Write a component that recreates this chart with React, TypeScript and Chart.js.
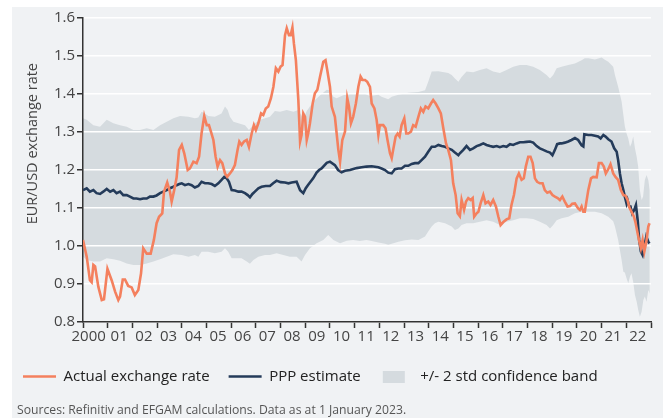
import React, { useEffect, useRef } from "react";
import { Chart, registerables } from "chart.js";

Chart.register(...registerables);

const FONT = "'Open Sans', 'Noto Sans', sans-serif";
const ORANGE = "#f4805e";
const NAVY = "#243b5a";
const BAND_COLOR = "#d5dbdf";
const PANEL = "#f0f2f4";
const AXIS = "#333333";

const xTickLabels = ["2000   ", "01", "02", "03", "04", "05", "06", "07", "08", "09", "10", "11", "12", "13", "14", "15", "16", "17", "18", "19", "20", "21", "22", ""];
const yAxisTitle = "EUR/USD exchange rate";
const seriesLabels = ["Actual exchange rate", "PPP estimate", "+/- 2 std confidence band"];
const sourceNote = "Sources: Refinitiv and EFGAM calculations. Data as at 1 January 2023.";

// [decimal year, EUR/USD]
const actualRate: [number, number][] = [
  [2000.0, 1.016], [2000.15, 0.972], [2000.28, 0.91], [2000.35, 0.905], [2000.42, 0.95], [2000.49, 0.946], [2000.62, 0.893], [2000.76, 0.858], [2000.85, 0.86], [2000.99, 0.94],
  [2001.16, 0.91], [2001.3, 0.88], [2001.43, 0.858], [2001.5, 0.867], [2001.61, 0.912], [2001.7, 0.912], [2001.83, 0.895], [2001.97, 0.891], [2002.1, 0.871], [2002.24, 0.884],
  [2002.35, 0.928], [2002.44, 0.994], [2002.58, 0.98], [2002.74, 0.98], [2002.87, 1.016], [2002.98, 1.06], [2003.08, 1.077], [2003.21, 1.086], [2003.28, 1.143], [2003.41, 1.167],
  [2003.52, 1.143], [2003.59, 1.117], [2003.68, 1.143], [2003.79, 1.18], [2003.89, 1.253], [2004.0, 1.266], [2004.1, 1.244], [2004.24, 1.2], [2004.33, 1.204], [2004.47, 1.222],
  [2004.6, 1.218], [2004.7, 1.235], [2004.8, 1.296], [2004.91, 1.342], [2005.01, 1.318], [2005.1, 1.318], [2005.18, 1.301], [2005.28, 1.279], [2005.37, 1.235], [2005.45, 1.209],
  [2005.55, 1.226], [2005.64, 1.218], [2005.75, 1.191], [2005.84, 1.182], [2005.95, 1.191], [2006.05, 1.2], [2006.15, 1.213], [2006.26, 1.253], [2006.33, 1.275], [2006.42, 1.266],
  [2006.52, 1.275], [2006.63, 1.279], [2006.72, 1.261], [2006.83, 1.296], [2006.92, 1.318], [2007.0, 1.305], [2007.1, 1.323], [2007.21, 1.349], [2007.3, 1.345], [2007.4, 1.362],
  [2007.5, 1.367], [2007.61, 1.389], [2007.71, 1.419], [2007.81, 1.468], [2007.91, 1.459], [2008.0, 1.472], [2008.08, 1.476], [2008.18, 1.555], [2008.25, 1.573], [2008.34, 1.555],
  [2008.41, 1.555], [2008.48, 1.575], [2008.54, 1.533], [2008.62, 1.489], [2008.72, 1.384], [2008.79, 1.275], [2008.85, 1.292], [2008.92, 1.349], [2008.99, 1.34], [2009.06, 1.279],
  [2009.12, 1.296], [2009.19, 1.323], [2009.3, 1.375], [2009.39, 1.402], [2009.49, 1.411], [2009.6, 1.446], [2009.73, 1.485], [2009.82, 1.489], [2009.89, 1.463], [2010.0, 1.419],
  [2010.07, 1.367], [2010.2, 1.34], [2010.34, 1.253], [2010.41, 1.222], [2010.5, 1.279], [2010.61, 1.301], [2010.7, 1.389], [2010.77, 1.367], [2010.85, 1.323], [2010.94, 1.34],
  [2011.05, 1.375], [2011.15, 1.419], [2011.24, 1.446], [2011.32, 1.437], [2011.42, 1.437], [2011.51, 1.432], [2011.62, 1.419], [2011.69, 1.375], [2011.8, 1.362], [2011.89, 1.332],
  [2011.96, 1.292], [2012.02, 1.318], [2012.16, 1.318], [2012.25, 1.31], [2012.33, 1.279], [2012.43, 1.244], [2012.5, 1.231], [2012.56, 1.253], [2012.66, 1.288], [2012.74, 1.296],
  [2012.82, 1.288], [2012.9, 1.318], [2013.01, 1.336], [2013.09, 1.296], [2013.17, 1.296], [2013.28, 1.301], [2013.37, 1.318], [2013.47, 1.314], [2013.58, 1.34], [2013.68, 1.362],
  [2013.78, 1.353], [2013.87, 1.367], [2013.98, 1.362], [2014.09, 1.375], [2014.18, 1.384], [2014.28, 1.375], [2014.39, 1.362], [2014.49, 1.349], [2014.59, 1.31], [2014.7, 1.27],
  [2014.79, 1.253], [2014.9, 1.226], [2014.99, 1.165], [2015.09, 1.134], [2015.17, 1.086], [2015.26, 1.078], [2015.33, 1.121], [2015.43, 1.095], [2015.51, 1.117], [2015.6, 1.126],
  [2015.7, 1.121], [2015.78, 1.126], [2015.84, 1.077], [2015.94, 1.086], [2016.01, 1.09], [2016.1, 1.112], [2016.21, 1.134], [2016.3, 1.112], [2016.41, 1.117], [2016.5, 1.108],
  [2016.61, 1.121], [2016.72, 1.104], [2016.82, 1.077], [2016.91, 1.055], [2017.02, 1.063], [2017.15, 1.07], [2017.26, 1.073], [2017.35, 1.108], [2017.45, 1.134], [2017.56, 1.178],
  [2017.65, 1.191], [2017.76, 1.174], [2017.85, 1.178], [2017.93, 1.209], [2018.03, 1.235], [2018.12, 1.235], [2018.21, 1.218], [2018.3, 1.178], [2018.39, 1.169], [2018.5, 1.165],
  [2018.61, 1.165], [2018.7, 1.147], [2018.8, 1.14], [2018.91, 1.143], [2019.01, 1.134], [2019.11, 1.13], [2019.22, 1.126], [2019.31, 1.121], [2019.41, 1.13], [2019.51, 1.117],
  [2019.62, 1.104], [2019.72, 1.105], [2019.81, 1.111], [2019.92, 1.112], [2020.05, 1.099], [2020.12, 1.095], [2020.19, 1.104], [2020.26, 1.09], [2020.32, 1.09], [2020.46, 1.147],
  [2020.57, 1.178], [2020.66, 1.182], [2020.8, 1.181], [2020.89, 1.218], [2021.0, 1.218], [2021.09, 1.209], [2021.17, 1.191], [2021.27, 1.202], [2021.36, 1.215], [2021.47, 1.191],
  [2021.57, 1.181], [2021.67, 1.174], [2021.78, 1.147], [2021.88, 1.134], [2021.97, 1.132], [2022.05, 1.121], [2022.12, 1.102], [2022.21, 1.09], [2022.31, 1.077], [2022.38, 1.06],
  [2022.46, 1.033], [2022.52, 1.014], [2022.59, 0.994], [2022.66, 1.016], [2022.73, 0.985], [2022.81, 1.011], [2022.89, 1.051], [2022.94, 1.06],
];

const pppEstimate: [number, number][] = [
  [2000.0, 1.147], [2000.15, 1.152], [2000.28, 1.143], [2000.42, 1.147], [2000.55, 1.139], [2000.69, 1.137], [2000.82, 1.143], [2000.96, 1.15], [2001.1, 1.143], [2001.23, 1.147],
  [2001.36, 1.139], [2001.5, 1.143], [2001.63, 1.134], [2001.77, 1.134], [2001.9, 1.13], [2002.04, 1.125], [2002.17, 1.125], [2002.31, 1.123], [2002.44, 1.125], [2002.58, 1.125],
  [2002.71, 1.13], [2002.85, 1.13], [2002.98, 1.133], [2003.12, 1.139], [2003.25, 1.143], [2003.39, 1.147], [2003.52, 1.152], [2003.66, 1.156], [2003.79, 1.16], [2003.9, 1.163],
  [2004.0, 1.165], [2004.13, 1.16], [2004.27, 1.163], [2004.4, 1.16], [2004.53, 1.154], [2004.67, 1.158], [2004.8, 1.169], [2004.94, 1.165], [2005.07, 1.165], [2005.21, 1.163],
  [2005.34, 1.158], [2005.48, 1.165], [2005.61, 1.174], [2005.72, 1.182], [2005.82, 1.178], [2005.91, 1.169], [2006.02, 1.147], [2006.15, 1.146], [2006.29, 1.143], [2006.42, 1.143],
  [2006.56, 1.139], [2006.67, 1.134], [2006.76, 1.128], [2006.86, 1.137], [2006.96, 1.143], [2007.1, 1.152], [2007.23, 1.156], [2007.4, 1.158], [2007.57, 1.158], [2007.7, 1.165],
  [2007.84, 1.172], [2008.0, 1.168], [2008.18, 1.167], [2008.32, 1.165], [2008.45, 1.167], [2008.65, 1.169], [2008.79, 1.147], [2008.92, 1.139], [2009.02, 1.152], [2009.12, 1.161],
  [2009.32, 1.178], [2009.46, 1.193], [2009.56, 1.2], [2009.66, 1.204], [2009.87, 1.219], [2010.0, 1.222], [2010.2, 1.213], [2010.33, 1.2], [2010.47, 1.194], [2010.61, 1.198],
  [2010.81, 1.2], [2011.08, 1.205], [2011.28, 1.207], [2011.48, 1.209], [2011.69, 1.21], [2011.96, 1.207], [2012.09, 1.204], [2012.23, 1.2], [2012.36, 1.193], [2012.5, 1.191],
  [2012.63, 1.202], [2012.77, 1.204], [2012.9, 1.204], [2013.04, 1.211], [2013.17, 1.211], [2013.31, 1.216], [2013.44, 1.218], [2013.58, 1.218], [2013.71, 1.226], [2013.85, 1.235],
  [2013.98, 1.248], [2014.12, 1.261], [2014.25, 1.261], [2014.39, 1.266], [2014.52, 1.263], [2014.66, 1.261], [2014.79, 1.257], [2014.93, 1.253], [2015.06, 1.246], [2015.2, 1.239],
  [2015.26, 1.244], [2015.4, 1.253], [2015.53, 1.263], [2015.67, 1.253], [2015.8, 1.257], [2015.94, 1.263], [2016.07, 1.266], [2016.21, 1.27], [2016.34, 1.266], [2016.48, 1.263],
  [2016.61, 1.261], [2016.75, 1.263], [2016.88, 1.26], [2017.02, 1.263], [2017.15, 1.261], [2017.29, 1.268], [2017.42, 1.266], [2017.56, 1.27], [2017.69, 1.273], [2017.83, 1.273],
  [2017.96, 1.274], [2018.1, 1.275], [2018.23, 1.272], [2018.37, 1.263], [2018.5, 1.257], [2018.64, 1.253], [2018.77, 1.249], [2018.91, 1.246], [2019.01, 1.239], [2019.11, 1.253],
  [2019.2, 1.268], [2019.31, 1.27], [2019.38, 1.27], [2019.51, 1.272], [2019.65, 1.275], [2019.78, 1.279], [2019.92, 1.284], [2020.05, 1.279], [2020.19, 1.265], [2020.26, 1.262],
  [2020.3, 1.294], [2020.46, 1.292], [2020.59, 1.292], [2020.73, 1.29], [2020.86, 1.288], [2020.96, 1.283], [2021.07, 1.292], [2021.16, 1.288], [2021.27, 1.281], [2021.4, 1.275],
  [2021.51, 1.257], [2021.61, 1.248], [2021.67, 1.226], [2021.74, 1.191], [2021.81, 1.165], [2021.88, 1.147], [2021.94, 1.13], [2022.01, 1.112], [2022.05, 1.121], [2022.12, 1.104],
  [2022.17, 1.104], [2022.24, 1.086], [2022.32, 1.095], [2022.39, 1.108], [2022.46, 1.068], [2022.52, 1.016], [2022.59, 0.985], [2022.66, 0.976], [2022.73, 0.998], [2022.81, 1.025],
  [2022.89, 1.011], [2022.94, 1.007],
];

const bandUpper: [number, number][] = [
  [2000.0, 1.336], [2000.15, 1.332], [2000.42, 1.318], [2000.69, 1.314], [2000.96, 1.332], [2001.23, 1.323], [2001.5, 1.318], [2001.77, 1.314], [2002.04, 1.305], [2002.31, 1.305],
  [2002.58, 1.31], [2002.85, 1.305], [2003.12, 1.318], [2003.39, 1.327], [2003.66, 1.336], [2003.93, 1.342], [2004.27, 1.34], [2004.53, 1.336], [2004.67, 1.338], [2004.8, 1.353],
  [2004.94, 1.349], [2005.07, 1.342], [2005.34, 1.34], [2005.61, 1.349], [2005.75, 1.367], [2005.86, 1.358], [2005.95, 1.34], [2006.09, 1.327], [2006.29, 1.323], [2006.56, 1.318],
  [2006.72, 1.305], [2006.83, 1.314], [2006.96, 1.323], [2007.17, 1.332], [2007.37, 1.336], [2007.57, 1.34], [2007.77, 1.355], [2007.98, 1.353], [2008.25, 1.358], [2008.52, 1.353],
  [2008.72, 1.358], [2008.92, 1.335], [2009.06, 1.355], [2009.33, 1.38], [2009.6, 1.397], [2009.87, 1.411], [2010.0, 1.41], [2010.14, 1.393], [2010.27, 1.389], [2010.54, 1.397],
  [2010.81, 1.4], [2011.08, 1.4], [2011.35, 1.402], [2011.62, 1.395], [2011.96, 1.398], [2012.09, 1.393], [2012.36, 1.386], [2012.5, 1.393], [2012.77, 1.398], [2013.17, 1.403],
  [2013.58, 1.405], [2013.85, 1.41], [2013.98, 1.432], [2014.12, 1.459], [2014.39, 1.46], [2014.79, 1.455], [2014.93, 1.45], [2015.06, 1.441], [2015.2, 1.432], [2015.33, 1.445],
  [2015.53, 1.459], [2015.8, 1.457], [2016.07, 1.463], [2016.34, 1.468], [2016.61, 1.459], [2016.88, 1.455], [2017.15, 1.463], [2017.42, 1.472], [2017.69, 1.476], [2017.96, 1.476],
  [2018.23, 1.472], [2018.5, 1.463], [2018.77, 1.45], [2018.91, 1.441], [2019.04, 1.45], [2019.18, 1.468], [2019.38, 1.472], [2019.65, 1.476], [2019.92, 1.48], [2020.19, 1.489],
  [2020.32, 1.494], [2020.46, 1.494], [2020.73, 1.491], [2021.0, 1.496], [2021.13, 1.49], [2021.27, 1.485], [2021.47, 1.472], [2021.54, 1.45], [2021.67, 1.419], [2021.81, 1.38],
  [2021.94, 1.315], [2022.01, 1.296], [2022.08, 1.283], [2022.15, 1.261], [2022.21, 1.27], [2022.28, 1.288], [2022.35, 1.257], [2022.42, 1.235], [2022.48, 1.209], [2022.55, 1.147],
  [2022.62, 1.121], [2022.68, 1.13], [2022.75, 1.174], [2022.82, 1.187], [2022.89, 1.174], [2022.95, 1.147],
];

const bandLower: [number, number][] = [
  [2000.0, 0.972], [2000.15, 0.963], [2000.42, 0.959], [2000.69, 0.959], [2000.96, 0.968], [2001.23, 0.965], [2001.5, 0.961], [2001.77, 0.954], [2002.04, 0.95], [2002.31, 0.95],
  [2002.58, 0.954], [2002.85, 0.959], [2003.12, 0.965], [2003.39, 0.972], [2003.66, 0.978], [2004.0, 0.976], [2004.27, 0.972], [2004.53, 0.976], [2004.67, 0.972], [2004.8, 0.985],
  [2005.07, 0.985], [2005.34, 0.981], [2005.61, 0.985], [2005.75, 0.994], [2005.88, 0.985], [2006.02, 0.968], [2006.22, 0.968], [2006.42, 0.968], [2006.63, 0.959], [2006.76, 0.953],
  [2006.9, 0.963], [2007.1, 0.972], [2007.37, 0.976], [2007.57, 0.976], [2007.84, 0.981], [2008.11, 0.976], [2008.38, 0.972], [2008.65, 0.972], [2008.85, 0.959], [2008.99, 0.976],
  [2009.19, 0.994], [2009.46, 1.007], [2009.73, 1.016], [2009.93, 1.029], [2010.14, 1.016], [2010.41, 1.007], [2010.68, 1.014], [2010.94, 1.016], [2011.21, 1.013], [2011.48, 1.016],
  [2011.69, 1.013], [2011.96, 1.009], [2012.23, 1.006], [2012.36, 1.003], [2012.5, 1.006], [2012.77, 1.011], [2013.04, 1.015], [2013.31, 1.017], [2013.58, 1.016], [2013.85, 1.025],
  [2013.98, 1.038], [2014.12, 1.051], [2014.25, 1.06], [2014.39, 1.064], [2014.66, 1.06], [2014.93, 1.051], [2015.06, 1.042], [2015.2, 1.046], [2015.33, 1.055], [2015.53, 1.06],
  [2015.8, 1.06], [2016.07, 1.064], [2016.34, 1.068], [2016.61, 1.064], [2016.88, 1.055], [2017.15, 1.064], [2017.42, 1.068], [2017.69, 1.073], [2017.96, 1.073], [2018.23, 1.071],
  [2018.5, 1.064], [2018.77, 1.055], [2018.91, 1.046], [2019.04, 1.055], [2019.18, 1.068], [2019.38, 1.073], [2019.65, 1.077], [2019.92, 1.086], [2020.19, 1.09], [2020.46, 1.09],
  [2020.73, 1.09], [2021.0, 1.086], [2021.27, 1.077], [2021.47, 1.065], [2021.54, 1.051], [2021.67, 1.016], [2021.81, 0.963], [2021.88, 0.932], [2021.94, 0.93], [2022.01, 0.915],
  [2022.08, 0.902], [2022.15, 0.92], [2022.21, 0.928], [2022.28, 0.905], [2022.35, 0.871], [2022.42, 0.853], [2022.48, 0.832], [2022.55, 0.814], [2022.62, 0.827], [2022.69, 0.858],
  [2022.75, 0.867], [2022.82, 0.853], [2022.89, 0.884], [2022.95, 0.875],
];

const X_MIN = 2000;
const X_MAX = 2023;
const Y_MIN = 0.8;
const Y_MAX = 1.6;

export default function App() {
  const canvasRef = useRef<HTMLCanvasElement | null>(null);

  useEffect(() => {
    document.body.style.overflow = "hidden";
    const canvas = canvasRef.current;
    if (!canvas) return;

    const swatch = document.createElement("canvas");
    swatch.width = 33;
    swatch.height = 12;
    const sctx = swatch.getContext("2d");
    if (sctx) {
      sctx.fillStyle = BAND_COLOR;
      sctx.fillRect(3, 0, 22, 12);
    }

    const toPoints = (rows: [number, number][]) => rows.map(([x, y]) => ({ x, y }));

    // y-axis title, anchored so that its end sits just below the 1.5 label
    const yTitlePlugin = {
      id: "yTitle",
      afterDraw(c: any) {
        const ctx = c.ctx as CanvasRenderingContext2D;
        const yScale = c.scales.y;
        ctx.save();
        ctx.translate(yScale.left + 29, 56);
        ctx.rotate(-Math.PI / 2);
        ctx.textAlign = "right";
        ctx.textBaseline = "middle";
        ctx.font = `14.5px ${FONT}`;
        ctx.fillStyle = "#444";
        ctx.fillText(yAxisTitle, 0, 0);
        ctx.restore();
      },
    };

    const chart = new Chart(canvas, {
      type: "line",
      data: {
        datasets: [
          {
            label: seriesLabels[0],
            data: toPoints(actualRate),
            borderColor: ORANGE,
            backgroundColor: ORANGE,
            borderWidth: 2.6,
            pointRadius: 0,
            pointStyle: "line",
            tension: 0,
            fill: false,
          },
          {
            label: seriesLabels[1],
            data: toPoints(pppEstimate),
            borderColor: NAVY,
            backgroundColor: NAVY,
            borderWidth: 2.6,
            pointRadius: 0,
            pointStyle: "line",
            tension: 0,
            fill: false,
          },
          {
            label: seriesLabels[2],
            data: toPoints(bandUpper),
            borderColor: "rgba(0,0,0,0)",
            backgroundColor: BAND_COLOR,
            borderWidth: 0,
            pointRadius: 0,
            pointStyle: swatch as any,
            tension: 0,
            fill: "+1",
          },
          {
            label: "lower",
            data: toPoints(bandLower),
            borderColor: "rgba(0,0,0,0)",
            backgroundColor: BAND_COLOR,
            borderWidth: 0,
            pointRadius: 0,
            tension: 0,
            fill: false,
          },
        ],
      },
      options: {
        responsive: false,
        animation: false,
        events: [],
        layout: { padding: { left: 0, right: 12, top: 11, bottom: 24 } },
        plugins: {
          filler: { drawTime: "beforeDraw" } as any,
          tooltip: { enabled: false },
          title: { display: false },
          legend: {
            position: "bottom",
            align: "start",
            labels: {
              usePointStyle: true,
              pointStyleWidth: 33,
              boxHeight: 12,
              padding: 19,
              color: "#222",
              font: { family: FONT, size: 15 },
              filter: (item: any) => item.datasetIndex !== 3,
            },
          },
        },
        scales: {
          x: {
            type: "linear",
            min: X_MIN,
            max: X_MAX,
            border: { display: true, color: AXIS, width: 1.5 },
            grid: {
              display: true,
              drawOnChartArea: false,
              drawTicks: true,
              tickLength: 6,
              tickColor: AXIS,
              tickWidth: 1.5,
            },
            ticks: {
              stepSize: 1,
              maxTicksLimit: 40,
              autoSkip: false,
              maxRotation: 0,
              minRotation: 0,
              labelOffset: 11.5,
              padding: 0,
              color: "#444",
              font: { family: FONT, size: 15 },
              callback: (value: any) => {
                const i = Math.round(Number(value)) - X_MIN;
                return xTickLabels[i] ?? "";
              },
            },
            afterFit: (scale: any) => {
              scale.height = 28;
            },
          },
          y: {
            min: Y_MIN,
            max: Y_MAX,
            border: { display: true, color: AXIS, width: 1.5 },
            grid: {
              color: "#ffffff",
              lineWidth: 1.5,
              drawTicks: true,
              tickLength: 6,
              tickColor: AXIS,
              tickWidth: 1.5,
            },
            ticks: {
              stepSize: 0.1,
              padding: 2,
              color: "#444",
              font: { family: FONT, size: 15 },
              callback: (value: any) => Number(value).toFixed(1),
            },
            title: { display: false },
            afterFit: (scale: any) => {
              scale.width = 79;
            },
          },
        },
      },
      plugins: [yTitlePlugin],
    });

    return () => chart.destroy();
  }, []);

  return (
    <div>
      <div
        style={{
          position: "absolute",
          left: 12,
          top: 7,
          width: 651,
          height: 411,
          background: PANEL,
        }}
      />
      <canvas
        ref={canvasRef}
        width={659}
        height={411}
        style={{ position: "absolute", left: 4, top: 7, width: 659, height: 411 }}
      />
      <div
        style={{
          position: "absolute",
          left: 17,
          top: 403,
          fontFamily: FONT,
          fontSize: 12.2,
          lineHeight: "14px",
          color: "#555",
          whiteSpace: "nowrap",
        }}
      >
        {sourceNote}
      </div>
    </div>
  );
}
